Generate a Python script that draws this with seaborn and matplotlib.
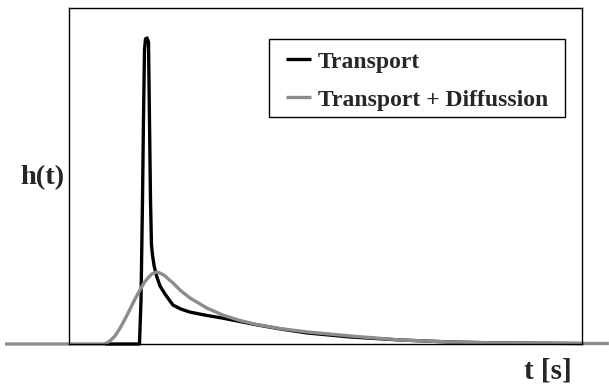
import numpy as np
import pandas as pd
import matplotlib
matplotlib.use("Agg")
import matplotlib.pyplot as plt
from matplotlib.patches import Rectangle
import seaborn as sns

# ---- data (arbitrary units) ----
t_transport = [7.11, 13.83, 14.13, 14.42, 14.61, 14.81, 15.00, 15.30, 15.59, 15.78,
               15.98, 16.17, 16.37, 16.66, 17.15, 17.83, 18.80, 20.36, 21.92, 23.68,
               26.99, 30.11, 33.42, 36.73, 41.21, 46.47, 54.85, 64.59, 74.34, 84.08, 99.86]
h_transport = [0.0, 0.0, 13.1, 42.9, 66.8, 87.6, 90.9, 91.2, 90.0, 66.8,
               42.9, 29.5, 26.5, 23.5, 20.3, 17.3, 14.9, 11.6, 10.4, 9.5,
               8.5, 7.7, 6.7, 5.7, 4.5, 3.3, 2.1, 1.2, 0.6, 0.3, 0.15]

t_diffusion = [-12.37, 6.14, 6.72, 7.50, 8.28, 9.06, 9.84, 10.62, 11.40, 12.18,
               12.96, 13.93, 14.71, 15.49, 16.27, 17.24, 18.02, 18.80, 19.58, 20.36,
               21.92, 23.68, 26.99, 30.11, 33.42, 36.73, 41.21, 46.47, 54.85, 64.59,
               74.34, 84.08, 99.86, 105.32]
h_diffusion = [0.0, 0.0, 0.0, 0.3, 1.2, 2.4, 4.2, 6.3, 8.6, 11.0,
               13.4, 16.1, 18.2, 19.7, 20.9, 21.5, 21.0, 20.3, 19.2, 18.2,
               15.8, 13.7, 10.7, 8.6, 7.0, 5.8, 4.6, 3.6, 2.4, 1.2,
               0.6, 0.3, 0.15, 0.15]

labels = ["Transport", "Transport + Diffussion"]
colors = ["#000000", "#8c8c8c"]

sns.set_theme(style="white")
plt.rcParams['font.family'] = ['Liberation Serif', 'DejaVu Serif']
plt.rcParams['font.weight'] = 'bold'

fig = plt.figure(figsize=(6.09, 3.85), dpi=100)
ax = fig.add_axes([0.1125, 0.1065, 0.8425, 0.8715])

df_t = pd.DataFrame({"t": t_transport, "h": h_transport})
df_d = pd.DataFrame({"t": t_diffusion, "h": h_diffusion})

sns.lineplot(data=df_t, x="t", y="h", ax=ax, color=colors[0], lw=2.4,
             estimator=None, sort=False, label=labels[0])
sns.lineplot(data=df_d, x="t", y="h", ax=ax, color=colors[1], lw=2.4,
             estimator=None, sort=False, label=labels[1])
for ln in ax.get_lines():
    ln.set_clip_on(False)
    ln.set_solid_joinstyle('round')
    ln.set_solid_capstyle('butt')

ax.set_xlim(0, 100)
ax.set_ylim(0, 100)
ax.set_xticks([])
ax.set_yticks([])
ax.set_xlabel("")
ax.set_ylabel("")
for s in ax.spines.values():
    s.set_visible(True)
    s.set_color("black")
    s.set_linewidth(1.0)

leg = ax.legend(loc="center", bbox_to_anchor=(0.685, 0.790), bbox_transform=fig.transFigure,
                prop={'family': 'Liberation Serif', 'weight': 'bold', 'size': 17},
                frameon=False,
                handlelength=1.05, handletextpad=0.3, labelspacing=0.70, borderpad=0.39)
for h in leg.get_lines():
    h.set_linewidth(2.4)

fig.text(0.069, 0.538, "h(t)", ha="center", va="center", fontsize=20.5,
         fontweight="bold", family="Liberation Serif")
fig.text(0.900, 0.036, "t [s]", ha="center", va="center", fontsize=21,
         fontweight="bold", family="Liberation Serif")

# legend frame, a little wider than the legend box
fig.canvas.draw()
bb = leg.get_window_extent()
pad_x = 8
shift_up = 3
frame = Rectangle((bb.x0 - pad_x, bb.y0 + shift_up), bb.width + 2 * pad_x, bb.height,
                  transform=None, fill=True, facecolor="white", edgecolor="black",
                  linewidth=1.0, zorder=4, clip_on=False)
ax.add_artist(frame)
leg.set_zorder(6)

fig.savefig("out.png", dpi=100)
